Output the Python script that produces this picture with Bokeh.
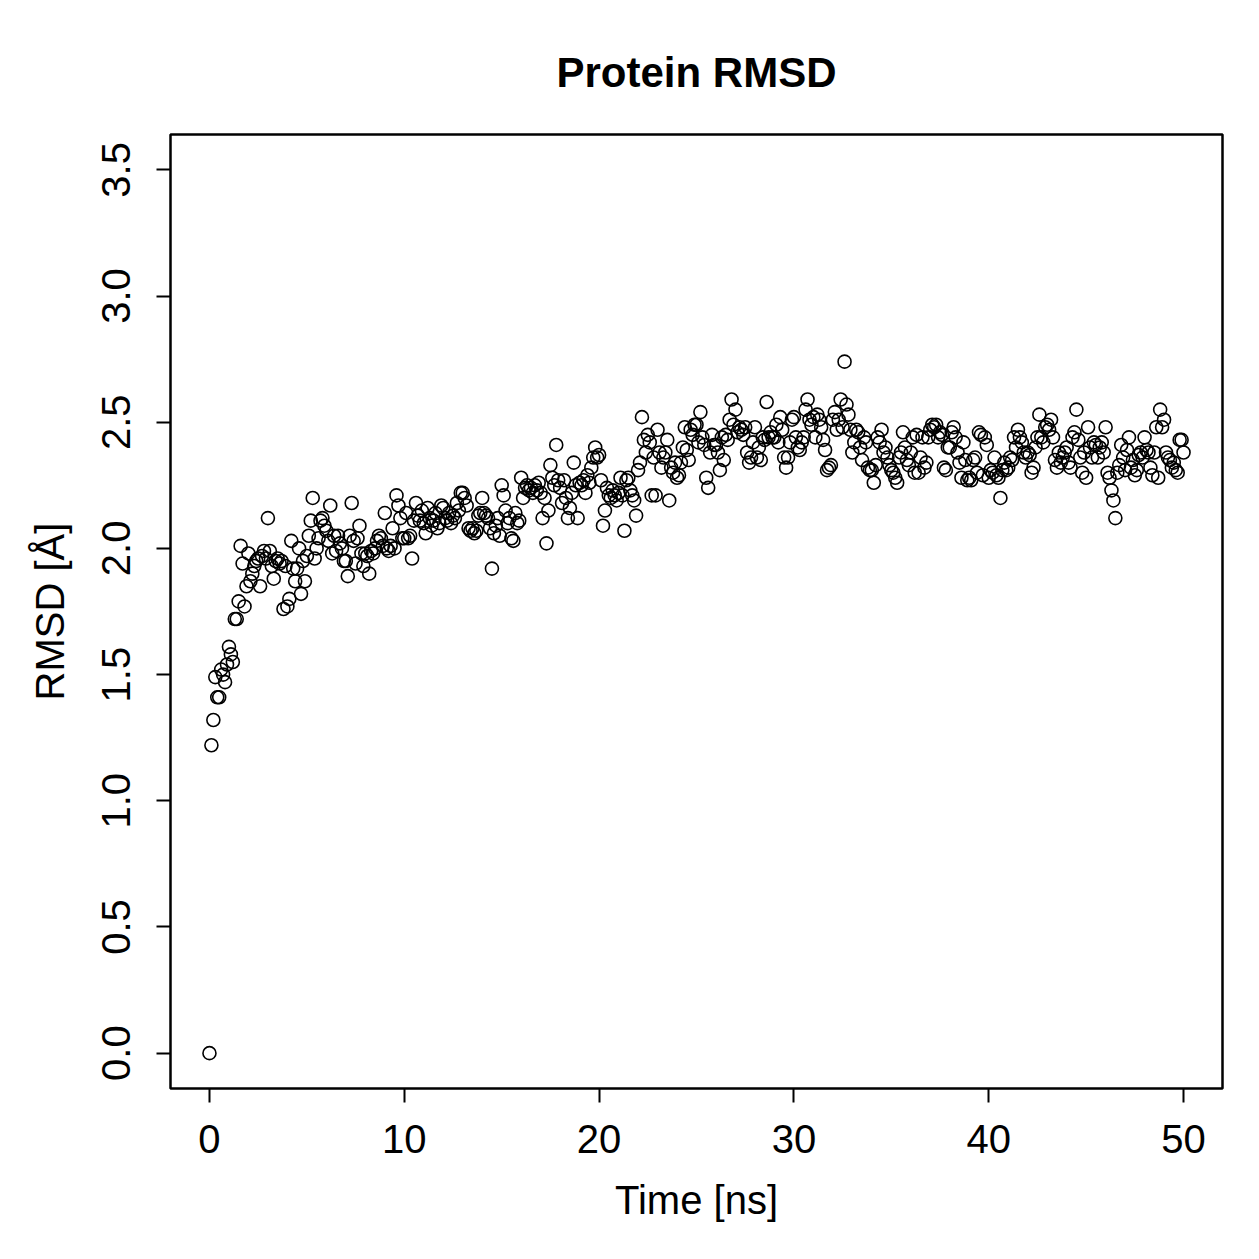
from bokeh.plotting import figure
from bokeh.models import FixedTicker, Range1d, ColumnDataSource
from bokeh.embed import file_html
from bokeh.resources import INLINE

# RMSD trajectory, one frame every 0.1 ns (0.0 .. 50.0 ns)
rmsd_00_09 = [0.00, 1.22, 1.32, 1.49, 1.41, 1.41, 1.52, 1.50, 1.47, 1.54]
rmsd_01 = [1.61, 1.58, 1.55, 1.72, 1.72, 1.79, 2.01, 1.94, 1.77, 1.85]
rmsd_02 = [1.98, 1.87, 1.90, 1.93, 1.95, 1.96, 1.85, 1.97, 1.99, 1.96]
rmsd_03 = [2.12, 1.99, 1.93, 1.88, 1.95, 1.96, 1.94, 1.95, 1.76, 1.93]
rmsd_04 = [1.77, 1.80, 2.03, 1.92, 1.87, 1.92, 2.00, 1.82, 1.95, 1.87]
rmsd_05 = [1.97, 2.05, 2.11, 2.20, 1.96, 2.00, 2.04, 2.11, 2.12, 2.09]
rmsd_06 = [2.07, 2.03, 2.17, 1.98, 2.05, 1.99, 2.05, 2.02, 2.00, 1.95]
rmsd_07 = [1.95, 1.89, 2.05, 2.18, 2.03, 1.94, 2.04, 2.09, 1.98, 1.93]
rmsd_08 = [1.98, 1.97, 1.90, 1.99, 1.98, 2.00, 2.03, 2.05, 2.04, 2.01]
rmsd_09 = [2.14, 2.00, 1.99, 2.01, 2.08, 2.00, 2.21, 2.17, 2.12, 2.04]
rmsd_10 = [2.04, 2.14, 2.04, 2.05, 1.96, 2.11, 2.18, 2.13, 2.11, 2.15]
rmsd_11 = [2.10, 2.06, 2.16, 2.12, 2.09, 2.11, 2.14, 2.08, 2.10, 2.17]
rmsd_12 = [2.16, 2.12, 2.11, 2.14, 2.10, 2.13, 2.12, 2.18, 2.15, 2.22]
rmsd_13 = [2.22, 2.20, 2.17, 2.08, 2.07, 2.08, 2.06, 2.07, 2.13, 2.14]
rmsd_14 = [2.20, 2.14, 2.13, 2.12, 2.08, 1.92, 2.06, 2.09, 2.12, 2.05]
rmsd_15 = [2.25, 2.21, 2.15, 2.10, 2.12, 2.04, 2.03, 2.14, 2.10, 2.11]
rmsd_16 = [2.28, 2.20, 2.24, 2.25, 2.23, 2.24, 2.22, 2.25, 2.23, 2.26]
rmsd_17 = [2.22, 2.12, 2.20, 2.02, 2.15, 2.33, 2.28, 2.25, 2.41, 2.27]
rmsd_18 = [2.24, 2.18, 2.27, 2.20, 2.12, 2.16, 2.22, 2.34, 2.25, 2.12]
rmsd_19 = [2.26, 2.25, 2.27, 2.22, 2.29, 2.26, 2.32, 2.36, 2.40, 2.36]
rmsd_20 = [2.37, 2.27, 2.09, 2.15, 2.24, 2.21, 2.20, 2.23, 2.21, 2.19]
rmsd_21 = [2.22, 2.28, 2.21, 2.07, 2.27, 2.28, 2.23, 2.21, 2.19, 2.13]
rmsd_22 = [2.31, 2.34, 2.52, 2.43, 2.38, 2.45, 2.42, 2.21, 2.36, 2.21]
rmsd_23 = [2.47, 2.38, 2.32, 2.36, 2.38, 2.43, 2.19, 2.32, 2.30, 2.34]
rmsd_24 = [2.28, 2.29, 2.34, 2.40, 2.48, 2.39, 2.35, 2.47, 2.45, 2.49]
rmsd_25 = [2.49, 2.42, 2.54, 2.44, 2.41, 2.28, 2.24, 2.38, 2.45, 2.41]
rmsd_26 = [2.41, 2.38, 2.31, 2.44, 2.35, 2.45, 2.43, 2.51, 2.59, 2.49]
rmsd_27 = [2.55, 2.46, 2.48, 2.47, 2.45, 2.48, 2.38, 2.34, 2.36, 2.42]
rmsd_28 = [2.48, 2.36, 2.40, 2.35, 2.44, 2.43, 2.58, 2.44, 2.46, 2.44]
rmsd_29 = [2.44, 2.49, 2.42, 2.52, 2.47, 2.36, 2.32, 2.36, 2.42, 2.51]
rmsd_30 = [2.52, 2.44, 2.40, 2.39, 2.42, 2.44, 2.55, 2.59, 2.51, 2.49]
rmsd_31 = [2.52, 2.44, 2.53, 2.51, 2.48, 2.43, 2.39, 2.31, 2.32, 2.33]
rmsd_32 = [2.51, 2.54, 2.47, 2.51, 2.59, 2.48, 2.74, 2.57, 2.53, 2.47]
rmsd_33 = [2.38, 2.42, 2.47, 2.46, 2.40, 2.35, 2.44, 2.42, 2.32, 2.31]
rmsd_34 = [2.31, 2.26, 2.33, 2.44, 2.42, 2.47, 2.38, 2.40, 2.36, 2.33]
rmsd_35 = [2.31, 2.30, 2.28, 2.26, 2.36, 2.38, 2.46, 2.40, 2.35, 2.33]
rmsd_36 = [2.38, 2.44, 2.30, 2.45, 2.30, 2.36, 2.44, 2.32, 2.34, 2.44]
rmsd_37 = [2.47, 2.49, 2.48, 2.49, 2.44, 2.46, 2.45, 2.32, 2.31, 2.40]
rmsd_38 = [2.40, 2.46, 2.48, 2.44, 2.38, 2.34, 2.28, 2.42, 2.35, 2.27]
rmsd_39 = [2.28, 2.27, 2.35, 2.36, 2.30, 2.46, 2.45, 2.29, 2.44, 2.41]
rmsd_40 = [2.28, 2.31, 2.30, 2.36, 2.29, 2.28, 2.20, 2.31, 2.34, 2.31]
rmsd_41 = [2.32, 2.36, 2.35, 2.44, 2.40, 2.47, 2.44, 2.42, 2.38, 2.36]
rmsd_42 = [2.38, 2.37, 2.30, 2.32, 2.40, 2.44, 2.53, 2.44, 2.42, 2.48]
rmsd_43 = [2.49, 2.47, 2.51, 2.44, 2.35, 2.32, 2.38, 2.34, 2.36, 2.38]
rmsd_44 = [2.40, 2.34, 2.32, 2.44, 2.46, 2.55, 2.43, 2.36, 2.30, 2.38]
rmsd_45 = [2.28, 2.48, 2.40, 2.36, 2.42, 2.41, 2.36, 2.40, 2.42, 2.38]
rmsd_46 = [2.48, 2.30, 2.28, 2.23, 2.19, 2.12, 2.30, 2.33, 2.41, 2.36]
rmsd_47 = [2.31, 2.39, 2.44, 2.32, 2.35, 2.29, 2.31, 2.37, 2.38, 2.36]
rmsd_48 = [2.44, 2.39, 2.38, 2.32, 2.29, 2.38, 2.48, 2.28, 2.55, 2.48]
rmsd_49 = [2.51, 2.38, 2.36, 2.35, 2.32, 2.34, 2.31, 2.30, 2.43, 2.43]
rmsd_50 = [2.38]

blocks = [rmsd_00_09, rmsd_01, rmsd_02, rmsd_03, rmsd_04, rmsd_05, rmsd_06, rmsd_07,
          rmsd_08, rmsd_09, rmsd_10, rmsd_11, rmsd_12, rmsd_13, rmsd_14, rmsd_15,
          rmsd_16, rmsd_17, rmsd_18, rmsd_19, rmsd_20, rmsd_21, rmsd_22, rmsd_23,
          rmsd_24, rmsd_25, rmsd_26, rmsd_27, rmsd_28, rmsd_29, rmsd_30, rmsd_31,
          rmsd_32, rmsd_33, rmsd_34, rmsd_35, rmsd_36, rmsd_37, rmsd_38, rmsd_39,
          rmsd_40, rmsd_41, rmsd_42, rmsd_43, rmsd_44, rmsd_45, rmsd_46, rmsd_47,
          rmsd_48, rmsd_49, rmsd_50]
rmsd = [v for b in blocks for v in b]
time_ns = [round(i * 0.1, 1) for i in range(len(rmsd))]

x_ticks = [0, 10, 20, 30, 40, 50]
y_ticks = [0.0, 0.5, 1.0, 1.5, 2.0, 2.5, 3.0, 3.5]
y_tick_labels = {t: f"{t:.1f}" for t in y_ticks}

FONT = "Liberation Sans"

p = figure(width=1259, height=1259, output_backend="svg", toolbar_location=None,
           x_range=Range1d(-2, 52), y_range=Range1d(-0.14, 3.64),
           min_border_left=170, min_border_right=37,
           min_border_top=134, min_border_bottom=171,
           title="Protein RMSD")
p.background_fill_color = "white"
p.border_fill_color = "white"
p.grid.visible = False
p.outline_line_color = "black"
p.outline_line_width = 2.5

p.title.text_font = FONT
p.title.text_font_size = "42px"
p.title.text_font_style = "bold"
p.title.align = "center"
p.title.text_color = "black"
p.title.standoff = 77

src = ColumnDataSource(dict(t=time_ns, r=rmsd))
p.scatter("t", "r", source=src, size=13, marker="circle", fill_color=None,
          line_color="black", line_width=1.6)

for ax in (p.xaxis[0], p.yaxis[0]):
    ax.axis_line_color = None
    ax.major_tick_in = 0
    ax.major_tick_out = 14
    ax.major_tick_line_width = 2
    ax.minor_tick_line_color = None
    ax.major_label_text_font = FONT
    ax.major_label_text_font_size = "40px"
    ax.major_label_text_color = "black"
    ax.axis_label_text_font = FONT
    ax.axis_label_text_font_size = "40px"
    ax.axis_label_text_font_style = "normal"
    ax.axis_label_text_color = "black"

p.xaxis[0].ticker = FixedTicker(ticks=x_ticks)
p.xaxis[0].axis_label = "Time [ns]"
p.xaxis[0].major_label_standoff = 22
p.xaxis[0].axis_label_standoff = 22

p.yaxis[0].ticker = FixedTicker(ticks=y_ticks)
p.yaxis[0].major_label_overrides = y_tick_labels
p.yaxis[0].major_label_orientation = "parallel"
p.yaxis[0].axis_label = "RMSD [Å]"
p.yaxis[0].major_label_standoff = 26
p.yaxis[0].axis_label_standoff = 28

open("out.html", "w").write(file_html(p, INLINE))
